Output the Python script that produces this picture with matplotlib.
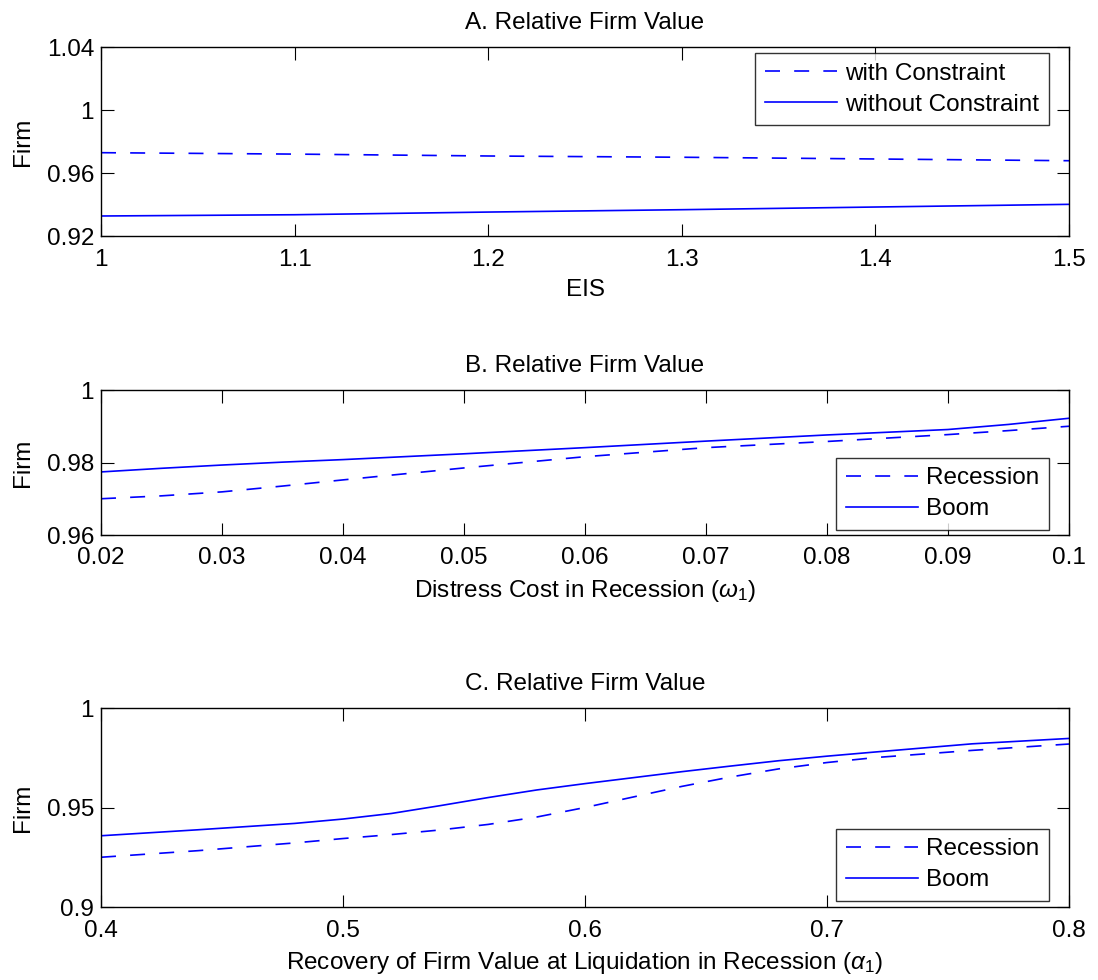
import matplotlib
matplotlib.use("Agg")
import matplotlib.pyplot as plt
from matplotlib.ticker import FuncFormatter

plt.rcParams['font.family'] = ['Liberation Sans', 'DejaVu Sans']
plt.rcParams['mathtext.fontset'] = 'custom'
plt.rcParams['mathtext.rm'] = 'Liberation Sans'
plt.rcParams['mathtext.it'] = 'Liberation Sans:italic'

# Panel A: relative firm value vs EIS
eis = [1.0, 1.1, 1.2, 1.3, 1.4, 1.5]
a_with = [0.9729, 0.9720, 0.9708, 0.9700, 0.9689, 0.9678]
a_without = [0.9327, 0.9335, 0.9352, 0.9367, 0.9384, 0.9401]

# Panel B: distress cost in recession
omega = [0.02, 0.025, 0.03, 0.035, 0.04, 0.05, 0.06, 0.07, 0.08, 0.09, 0.095, 0.1]
b_recession = [0.9700, 0.9708, 0.9719, 0.9735, 0.9752, 0.9785, 0.9816, 0.9841, 0.9858, 0.9877, 0.9888, 0.9900]
b_boom = [0.9774, 0.9784, 0.9793, 0.9801, 0.9808, 0.9824, 0.9841, 0.9859, 0.9876, 0.9891, 0.9905, 0.9922]

# Panel C: recovery at liquidation in recession
alpha = [0.4, 0.44, 0.48, 0.5, 0.52, 0.54, 0.56, 0.58, 0.6, 0.62, 0.64,
         0.66, 0.68, 0.7, 0.72, 0.76, 0.8]
c_recession = [0.9250, 0.9283, 0.9322, 0.9344, 0.9364, 0.9387, 0.9415, 0.9452, 0.9500,
               0.9553, 0.9606, 0.9653, 0.9694, 0.9726, 0.9751, 0.9787, 0.9819]
c_boom = [0.9358, 0.9388, 0.9420, 0.9442, 0.9470, 0.9509, 0.9550, 0.9588, 0.9620,
          0.9650, 0.9680, 0.9708, 0.9735, 0.9758, 0.9779, 0.9820, 0.9847]

fs = 17.5
W, H = 1098, 980
fig = plt.figure(figsize=(W / 100, H / 100), dpi=100)


def box(top, bottom):
    return [101 / W, 1 - bottom / H, (1069 - 101) / W, (bottom - top) / H]


def fmt(v, pos):
    return '%g' % round(v, 6)


def style(ax, title, xlabel, xlim, ylim, xt, yt):
    ax.set_xlim(xlim)
    ax.set_ylim(ylim)
    ax.set_xticks(xt)
    ax.set_yticks(yt)
    ax.xaxis.set_major_formatter(FuncFormatter(fmt))
    ax.yaxis.set_major_formatter(FuncFormatter(fmt))
    ax.tick_params(direction='in', length=9, width=0.8, top=True, right=True,
                   labelsize=fs, pad=9)
    ax.tick_params(axis='y', pad=5)
    for s in ax.spines.values():
        s.set_linewidth(1.0)
    ax.set_title(title, fontsize=fs, pad=13)
    ax.set_xlabel(xlabel, fontsize=fs, labelpad=6)
    ax.set_ylabel('Firm', fontsize=fs, labelpad=9)


line_kw = dict(color='blue', lw=1.2)
dash_kw = dict(color='blue', lw=1.2, ls=(0, (9, 8.5)))

leg_kw = dict(fontsize=fs, frameon=True, fancybox=False, edgecolor='black',
              handlelength=2.95, handletextpad=0.35, borderaxespad=0,
              borderpad=0.4, labelspacing=0.37, bbox_transform=fig.transFigure)

ax1 = fig.add_axes(box(47, 236))
ax1.plot(eis, a_with, **dash_kw, label='with Constraint')
ax1.plot(eis, a_without, **line_kw, label='without Constraint')
style(ax1, 'A. Relative Firm Value', 'EIS', (1, 1.5), (0.92, 1.04),
      [1, 1.1, 1.2, 1.3, 1.4, 1.5], [0.92, 0.96, 1.0, 1.04])
l1 = ax1.legend(loc='upper right', bbox_to_anchor=(1049 / W, 1 - 53 / H), **leg_kw)
l1.get_frame().set_linewidth(1.0)

ax2 = fig.add_axes(box(390, 535))
ax2.plot(omega, b_recession, **dash_kw, label='Recession')
ax2.plot(omega, b_boom, **line_kw, label='Boom')
style(ax2, 'B. Relative Firm Value', r'Distress Cost in Recession ($\omega_1$)',
      (0.02, 0.1), (0.96, 1.0),
      [0.02, 0.03, 0.04, 0.05, 0.06, 0.07, 0.08, 0.09, 0.1], [0.96, 0.98, 1.0])
l2 = ax2.legend(loc='lower right', bbox_to_anchor=(1049 / W, 1 - 530 / H), **leg_kw)
l2.get_frame().set_linewidth(1.0)

ax3 = fig.add_axes(box(708, 907))
ax3.plot(alpha, c_recession, **dash_kw, label='Recession')
ax3.plot(alpha, c_boom, **line_kw, label='Boom')
style(ax3, 'C. Relative Firm Value',
      r'Recovery of Firm Value at Liquidation in Recession ($\alpha_1$)',
      (0.4, 0.8), (0.9, 1.0), [0.4, 0.5, 0.6, 0.7, 0.8], [0.9, 0.95, 1.0])
l3 = ax3.legend(loc='lower right', bbox_to_anchor=(1049 / W, 1 - 901 / H), **leg_kw)
l3.get_frame().set_linewidth(1.0)

fig.savefig('out.png', dpi=100)
